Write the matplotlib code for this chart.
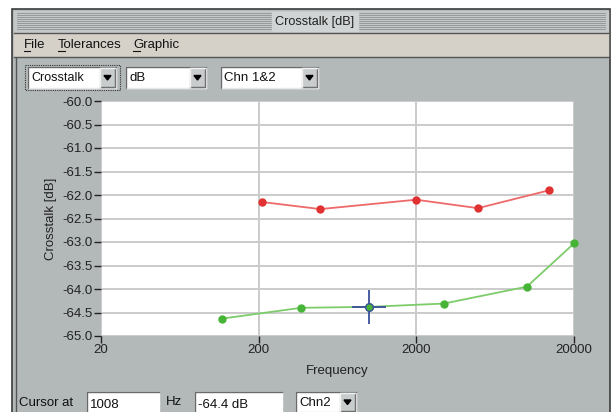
import matplotlib
matplotlib.use("Agg")
import matplotlib.pyplot as plt
from matplotlib.patches import Rectangle, Polygon

plt.rcParams['font.family'] = ['Liberation Sans', 'DejaVu Sans']

# data
chn1_freq = [211, 492, 1990, 4920, 13900]
chn1_db = [-62.15, -62.30, -62.10, -62.28, -61.90]
chn2_freq = [117, 372, 1008, 2990, 10050, 20000]
chn2_db = [-64.63, -64.40, -64.38, -64.31, -63.95, -63.03]
cursor_freq = 1008
cursor_db = -64.38

y_ticks = [-60.0, -60.5, -61.0, -61.5, -62.0, -62.5, -63.0, -63.5, -64.0, -64.5, -65.0]
x_ticks = [20, 200, 2000, 20000]
menu_items = ["File", "Tolerances", "Graphic"]

W, H = 613, 412
PANEL = '#b3b8b8'
fig = plt.figure(figsize=(W / 100, H / 100), dpi=100)
fig.patch.set_facecolor('white')

# window chrome drawn in pixel coordinates
bg = fig.add_axes([0, 0, 1, 1])
bg.set_xlim(0, W)
bg.set_ylim(H, 0)
bg.axis('off')


def box(x0, y0, x1, y1, fc, ec=None, lw=1.0, z=1, ls='-'):
    bg.add_patch(Rectangle((x0, y0), x1 - x0, y1 - y0, facecolor=fc,
                           edgecolor=ec if ec else fc, lw=lw, zorder=z, ls=ls))


def field(x0, y0, x1, y1, text, button=False, size=9.5):
    box(x0, y0, x1, y1, 'white', z=3)
    bg.plot([x0, x0, x1], [y1, y0, y0], color='#6a6a6a', lw=1.0, zorder=4)
    bg.plot([x0 + 1, x1], [y1, y1], color='#e8e8e8', lw=1.0, zorder=4)
    bg.text(x0 + 3, (y0 + y1) / 2 + 0.5, text, fontsize=size, va='center',
            ha='left', color='#111111', zorder=5)
    if button:
        bx0, bx1 = x1 - 16, x1 - 1
        box(bx0, y0 + 1, bx1, y1 - 1, '#c8cccc', z=5)
        bg.plot([bx0, bx1, bx1], [y1 - 1, y1 - 1, y0 + 1], color='#707070', lw=1.0, zorder=6)
        bg.plot([bx0, bx0, bx1], [y1 - 1, y0 + 1, y0 + 1], color='#f0f0f0', lw=1.0, zorder=6)
        cx, cy = (bx0 + bx1) / 2, (y0 + y1) / 2
        bg.add_patch(Polygon([[cx - 3.5, cy - 2], [cx + 3.5, cy - 2], [cx, cy + 2.5]],
                             closed=True, color='black', zorder=7))


# outer frame and panel
box(12, 9, 610, 420, PANEL, ec='#3c3c3c', lw=1.2)
bg.plot([16, 16], [57, 420], color='#555555', lw=1.0, zorder=2)
# title bar with stripes
box(14, 11, 608, 32, '#c4c8c8', z=2)
for yy in range(13, 31, 2):
    bg.plot([17, 605], [yy, yy], color='#8e9292', lw=0.6, zorder=2)
box(272, 12, 358, 31, '#d0d4d4', z=3)
bg.text(315, 21.5, "Crosstalk [dB]", fontsize=9.2, ha='center', va='center',
        color='#222222', zorder=4)
bg.plot([14, 608], [32.5, 32.5], color='#555555', lw=1.0, zorder=3)
# menu bar
box(14, 33, 608, 56, '#d5d1c9', z=2)
bg.plot([14, 608], [56.5, 56.5], color='#555555', lw=1.0, zorder=3)
menu_x = [24, 58, 133]
under_w = [6, 7, 7]
for mx, label, uw in zip(menu_x, menu_items, under_w):
    bg.text(mx, 45, label, fontsize=9.5, ha='left', va='center', color='#111111', zorder=4)
    bg.plot([mx, mx + uw], [50.5, 50.5], color='#111111', lw=0.8, zorder=4)

# top combo boxes
box(25, 65, 120, 90, 'none', ec='#333333', lw=0.8, z=2, ls=(0, (1, 1)))
field(28, 67, 116, 88, "Crosstalk", button=True, size=9.0)
field(126, 67, 206, 88, "dB", button=True)
field(221, 67, 318, 88, "Chn 1&2", button=True)

# bottom cursor bar
bg.text(19, 403, "Cursor at", fontsize=9.5, ha='left', va='center', color='#111111')
field(87, 392, 159, 416, "1008")
bg.text(166, 402, "Hz", fontsize=9.5, ha='left', va='center', color='#111111')
field(195, 392, 282, 416, "-64.4 dB")
field(296, 392, 356, 412, "Chn2", button=True)

# plot area
L, R, T, B = 101, 574, 101, 336
ax = fig.add_axes([L / W, (H - B) / H, (R - L) / W, (B - T) / H])
ax.set_facecolor('white')
ax.set_xscale('log')
ax.set_xlim(20, 20000)
ax.set_ylim(-65, -60)
ax.set_yticks(y_ticks)
ax.set_yticklabels([f"{v:.1f}" for v in y_ticks])
ax.set_xticks(x_ticks)
ax.set_xticklabels([str(v) for v in x_ticks])
ax.minorticks_off()
ax.grid(True, color='#cbcbcb', lw=1.4)
ax.set_axisbelow(True)
for s in ax.spines.values():
    s.set_visible(False)
ax.tick_params(direction='out', length=5, width=1, color='#222222',
               labelsize=9.5, labelcolor='#222222', pad=1)
ax.set_xlabel("Frequency", fontsize=9.5, color='#222222', labelpad=6)
ax.set_ylabel("Crosstalk [dB]", fontsize=9.5, color='#222222', labelpad=4)

ax.plot(chn1_freq, chn1_db, color='#ee6a6a', lw=1.3, zorder=3)
ax.plot(chn1_freq, chn1_db, 'o', color='#e03232', ms=5, zorder=4)
ax.plot(chn2_freq, chn2_db, color='#7ccc6a', lw=1.3, zorder=3, clip_on=False)
ax.plot(chn2_freq, chn2_db, 'o', color='#46b436', ms=5, zorder=4, clip_on=False)
ax.plot([cursor_freq], [cursor_db], '+', color='#3a4f9a', ms=24, mew=1.3, zorder=5)
ax.plot([cursor_freq], [cursor_db], 'o', mfc='#46b436', mec='#3a4f9a', ms=5.5, mew=1.0, zorder=6)

fig.savefig("out.png", dpi=100)
